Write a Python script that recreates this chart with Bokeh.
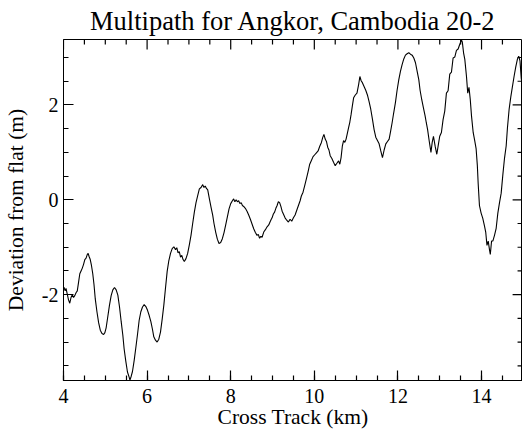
from bokeh.plotting import figure
from bokeh.models import Range1d, SingleIntervalTicker
from bokeh.embed import file_html
from bokeh.resources import INLINE

title_text = "Multipath for Angkor, Cambodia 20-2"
x_label = "Cross Track (km)"
y_label = "Deviation from flat (m)"

cross_track_km = [
    4.00, 4.01, 4.04, 4.06, 4.09, 4.12, 4.15, 4.18, 4.21, 4.24, 4.27, 4.30, 4.33, 4.36, 4.39, 4.42, 4.45,
    4.48, 4.51, 4.54, 4.57, 4.59, 4.61, 4.64, 4.67, 4.70, 4.73, 4.76, 4.80, 4.84, 4.88, 4.92, 4.96, 4.99,
    5.02, 5.06, 5.10, 5.14, 5.18, 5.22, 5.26, 5.30, 5.34, 5.38, 5.42, 5.45, 5.49, 5.53, 5.57, 5.59, 5.62,
    5.65, 5.69, 5.73, 5.77, 5.81, 5.85, 5.89, 5.93, 5.97, 6.01, 6.05, 6.09, 6.13, 6.16, 6.20, 6.24, 6.28,
    6.32, 6.36, 6.40, 6.44, 6.48, 6.52, 6.56, 6.60, 6.64, 6.68, 6.71, 6.74, 6.77, 6.80, 6.83, 6.86, 6.89,
    6.93, 6.97, 7.01, 7.05, 7.09, 7.13, 7.17, 7.21, 7.25, 7.29, 7.33, 7.36, 7.39, 7.42, 7.45, 7.49, 7.53,
    7.57, 7.60, 7.64, 7.68, 7.72, 7.76, 7.80, 7.84, 7.88, 7.92, 7.96, 8.00, 8.04, 8.07, 8.10, 8.13, 8.16,
    8.19, 8.22, 8.25, 8.28, 8.31, 8.35, 8.39, 8.43, 8.47, 8.51, 8.55, 8.59, 8.63, 8.66, 8.69, 8.72, 8.75,
    8.79, 8.83, 8.87, 8.91, 8.94, 8.97, 8.99, 9.02, 9.05, 9.08, 9.11, 9.14, 9.17, 9.20, 9.23, 9.26, 9.30,
    9.34, 9.38, 9.42, 9.46, 9.50, 9.54, 9.58, 9.62, 9.66, 9.69, 9.73, 9.77, 9.81, 9.85, 9.89, 9.93,
    9.97, 10.01, 10.05, 10.09, 10.13, 10.17, 10.20, 10.23, 10.26, 10.29, 10.32, 10.35, 10.38, 10.42,
    10.46, 10.50, 10.54, 10.58, 10.61, 10.64, 10.67, 10.70, 10.73, 10.76, 10.79, 10.82, 10.85, 10.88,
    10.91, 10.94, 10.98, 11.02, 11.06, 11.09, 11.12, 11.15, 11.19, 11.23, 11.27, 11.31, 11.35, 11.39,
    11.43, 11.47, 11.51, 11.55, 11.59, 11.63, 11.67, 11.71, 11.75, 11.79, 11.82, 11.86, 11.90, 11.94,
    11.98, 12.02, 12.06, 12.10, 12.14, 12.18, 12.22, 12.26, 12.30, 12.34, 12.38, 12.42, 12.46, 12.50,
    12.53, 12.57, 12.61, 12.65, 12.68, 12.71, 12.75, 12.79, 12.82, 12.85, 12.89, 12.93, 12.97, 13.00,
    13.04, 13.08, 13.12, 13.16, 13.20, 13.24, 13.28, 13.32, 13.36, 13.40, 13.44, 13.48, 13.52, 13.54,
    13.57, 13.60, 13.64, 13.67, 13.70, 13.73, 13.76, 13.80, 13.84, 13.87, 13.90, 13.92, 13.95, 13.99,
    14.03, 14.07, 14.10, 14.13, 14.16, 14.19, 14.21, 14.24, 14.27, 14.31, 14.35, 14.39, 14.43, 14.47,
    14.51, 14.55, 14.59, 14.62, 14.66, 14.70, 14.74, 14.78, 14.82, 14.86, 14.89, 14.92, 14.95, 14.98,
]

deviation_m = [
    -1.89, -1.84, -1.92, -1.87, -1.99, -2.11, -2.18, -2.06, -2.00, -2.06, -2.02, -1.96, -1.92, -1.74, -1.56, -1.50, -1.44,
    -1.36, -1.26, -1.23, -1.15, -1.13, -1.19, -1.26, -1.39, -1.56, -1.79, -2.09, -2.36, -2.59, -2.75, -2.82, -2.84, -2.80,
    -2.70, -2.46, -2.22, -2.02, -1.90, -1.85, -1.90, -2.01, -2.26, -2.57, -2.86, -3.14, -3.40, -3.63, -3.74, -3.80, -3.72,
    -3.62, -3.39, -3.12, -2.84, -2.54, -2.36, -2.26, -2.21, -2.25, -2.33, -2.44, -2.57, -2.74, -2.89, -2.96, -3.00, -2.94,
    -2.79, -2.52, -2.22, -1.86, -1.51, -1.28, -1.13, -1.03, -0.99, -1.05, -1.01, -1.12, -1.09, -1.21, -1.17, -1.26, -1.30,
    -1.24, -1.13, -0.95, -0.75, -0.50, -0.26, -0.06, 0.09, 0.23, 0.26, 0.32, 0.26, 0.29, 0.24, 0.21, 0.02, -0.16,
    -0.33, -0.50, -0.68, -0.83, -0.92, -0.90, -0.82, -0.69, -0.53, -0.36, -0.19, -0.08, -0.02, 0.02, -0.04, 0.00, -0.04,
    -0.02, -0.08, -0.06, -0.12, -0.14, -0.18, -0.24, -0.32, -0.41, -0.51, -0.61, -0.69, -0.75, -0.73, -0.81, -0.77, -0.79,
    -0.68, -0.63, -0.57, -0.53, -0.47, -0.41, -0.38, -0.30, -0.26, -0.18, -0.12, -0.04, -0.06, -0.14, -0.24, -0.30, -0.38,
    -0.43, -0.47, -0.41, -0.45, -0.38, -0.32, -0.22, -0.12, -0.02, 0.08, 0.16, 0.30, 0.44, 0.59, 0.75, 0.83,
    0.91, 0.95, 0.99, 1.03, 1.13, 1.21, 1.31, 1.38, 1.28, 1.23, 1.11, 1.05, 0.93, 0.87,
    0.79, 0.72, 0.77, 0.82, 0.75, 0.89, 1.13, 1.25, 1.21, 1.28, 1.40, 1.52, 1.64, 1.80,
    1.98, 2.15, 2.21, 2.25, 2.43, 2.60, 2.51, 2.47, 2.39, 2.31, 2.21, 2.07, 1.91, 1.70,
    1.48, 1.32, 1.25, 1.18, 1.03, 0.89, 1.05, 1.18, 1.23, 1.28, 1.42, 1.62, 1.84, 2.05,
    2.31, 2.53, 2.71, 2.85, 2.97, 3.05, 3.08, 3.10, 3.07, 3.05, 2.99, 2.89, 2.71, 2.53,
    2.31, 2.11, 1.94, 1.77, 1.62, 1.48, 1.23, 1.00, 1.21, 1.34, 1.13, 0.96, 1.18, 1.34,
    1.42, 1.69, 1.87, 2.25, 2.30, 2.65, 2.69, 2.99, 3.01, 3.15, 3.18, 3.28, 3.37, 3.33,
    3.10, 2.96, 2.60, 2.25, 2.37, 2.12, 1.77, 1.42, 1.23, 1.08, 0.72, 0.34, -0.12, -0.28,
    -0.39, -0.55, -0.68, -0.96, -0.87, -1.05, -1.15, -0.87, -0.87, -0.75, -0.60, -0.28, -0.06, 0.14,
    0.53, 0.88, 1.14, 1.52, 1.91, 2.17, 2.39, 2.61, 2.81, 2.97, 3.03, 2.93, 2.56, 2.39,
]

x_min, x_max = 4.0, 14.98
y_min, y_max = -3.81, 3.38
x_ticks_major = [4, 6, 8, 10, 12, 14]
x_ticks_minor = [4.5 + 0.5 * i for i in range(21) if (4.5 + 0.5 * i) % 2 != 0]
y_ticks_major = [-2, 0, 2]
y_ticks_minor = [-3.5 + 0.5 * i for i in range(14) if (-3.5 + 0.5 * i) % 2 != 0]
y_tick_labels = {-2: "-2", 0: "0", 2: "2"}

FONT = "Liberation Serif"
FRAME_W, FRAME_H = 464, 345

p = figure(width=522, height=431, output_backend="svg", toolbar_location=None,
           x_range=Range1d(x_min, x_max), y_range=Range1d(y_min, y_max),
           min_border_left=58, min_border_right=0, min_border_top=37, min_border_bottom=49,
           x_axis_label=x_label, y_axis_label=y_label)

p.title.text = title_text
p.title.align = "center"
p.title.text_font = FONT
p.title.text_font_size = "26.5px"
p.title.text_font_style = "normal"
p.title.text_color = "black"
p.title.standoff = 7

p.grid.visible = False
p.outline_line_color = "black"
p.outline_line_width = 1
p.background_fill_color = "white"
p.border_fill_color = "white"

p.line(cross_track_km, deviation_m, line_color="black", line_width=1.1)

# inward tick marks on the top and right sides of the box (lengths 10 px / 5 px)
ty_major = 10 * (y_max - y_min) / FRAME_H
ty_minor = 5 * (y_max - y_min) / FRAME_H
tx_major = 10 * (x_max - x_min) / FRAME_W
tx_minor = 5 * (x_max - x_min) / FRAME_W
seg = dict(line_color="black", line_width=1.2)
nxm, nym = len(x_ticks_minor), len(y_ticks_minor)
p.segment(x0=x_ticks_major, y0=[y_max] * 6, x1=x_ticks_major, y1=[y_max - ty_major] * 6, **seg)
p.segment(x0=x_ticks_minor, y0=[y_max] * nxm, x1=x_ticks_minor, y1=[y_max - ty_minor] * nxm, **seg)
p.segment(x0=[x_max] * 3, y0=y_ticks_major, x1=[x_max - tx_major] * 3, y1=y_ticks_major, **seg)
p.segment(x0=[x_max] * nym, y0=y_ticks_minor, x1=[x_max - tx_minor] * nym, y1=y_ticks_minor, **seg)

p.xaxis.ticker = SingleIntervalTicker(interval=2, num_minor_ticks=4)
p.yaxis.ticker = SingleIntervalTicker(interval=2, num_minor_ticks=4)
p.yaxis.major_label_overrides = y_tick_labels

for ax in p.xaxis + p.yaxis:
    ax.axis_line_color = "black"
    ax.major_tick_line_color = "black"
    ax.minor_tick_line_color = "black"
    ax.major_tick_line_width = 1.2
    ax.minor_tick_line_width = 1.2
    ax.major_tick_in = 10
    ax.major_tick_out = 0
    ax.minor_tick_in = 5
    ax.minor_tick_out = 0
    ax.major_label_text_font = FONT
    ax.major_label_text_color = "black"
    ax.major_label_text_font_size = "20px"
    ax.axis_label_text_font = FONT
    ax.axis_label_text_font_style = "normal"
    ax.axis_label_text_color = "black"
    ax.axis_label_text_font_size = "21.5px"

p.xaxis.major_label_text_line_height = 1.0
p.xaxis.axis_label_text_line_height = 1.0
p.xaxis.major_label_standoff = 8
p.xaxis.axis_label_standoff = -1
p.yaxis.major_label_standoff = 5
p.yaxis.axis_label_standoff = 11

open("out.html", "w").write(file_html(p, INLINE))
